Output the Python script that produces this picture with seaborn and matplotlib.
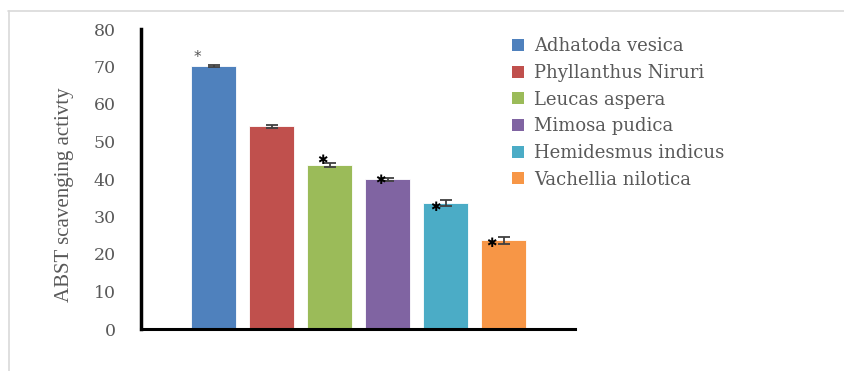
import matplotlib
matplotlib.use("Agg")
import matplotlib.pyplot as plt
import seaborn as sns
import pandas as pd
from matplotlib.patches import Patch
from matplotlib.lines import Line2D

species = ["Adhatoda vesica", "Phyllanthus Niruri", "Leucas aspera",
           "Mimosa pudica", "Hemidesmus indicus", "Vachellia nilotica"]
values = [70.1, 54.1, 43.7, 40.0, 33.6, 23.7]
errors = [0.3, 0.4, 0.6, 0.4, 0.7, 0.9]
colors = ["#4F81BD", "#C0504D", "#9BBB59", "#8064A2", "#4BACC6", "#F79646"]
star_dx = [-0.28, None, -0.13, -0.12, -0.18, -0.21]
star_y = [73.0, None, 45.0, 39.7, 32.5, 22.7]

sns.set_theme(style="white")
plt.rcParams['font.family'] = ['DejaVu Serif']

df = pd.DataFrame({"species": species, "value": values})

fig = plt.figure(figsize=(8.44, 3.71), dpi=100)
ax = fig.add_axes([141/844, 42/371, (575-141)/844, (329-29)/371])

sns.barplot(data=df, x="species", y="value", hue="species", palette=colors,
            order=species, hue_order=species, dodge=False, width=0.78,
            legend=False, ax=ax, saturation=1, edgecolor="white", linewidth=0.6)
ax.errorbar(range(len(species)), values, yerr=errors, fmt="none",
            ecolor="#404040", elinewidth=1.3, capsize=4.5, capthick=1.3)

for i, (dx, sy) in enumerate(zip(star_dx, star_y)):
    if dx is None:
        continue
    if i == 0:
        ax.text(i + dx, sy - 0.5, "*", ha="center", va="center", fontsize=11,
                color="#555555", family="DejaVu Sans")
    else:
        ax.text(i + dx, sy, "\u2731", ha="center", va="center", fontsize=9,
                color="black", family="DejaVu Sans")

ax.set_ylim(0, 80)
ax.set_xlim(-1.25, 6.23)
ax.set_yticks(range(0, 81, 10))
ax.set_xticks([])
ax.set_xlabel("")
ax.set_ylabel("ABST scavenging activty", family="Liberation Serif",
              fontsize=15, color="#595959")
ax.yaxis.set_label_coords(-0.154, 0.447)
ax.tick_params(axis="y", length=0, pad=18, labelsize=12.5, labelcolor="#595959")
for lab in ax.get_yticklabels():
    lab.set_family("DejaVu Serif")
sns.despine(ax=ax)
ax.spines["left"].set_color("black")
ax.spines["left"].set_linewidth(2.5)
ax.spines["bottom"].set_color("black")
ax.spines["bottom"].set_linewidth(2.2)

handles = [Patch(facecolor=c, edgecolor="none") for c in colors]
fig.legend(handles, species, loc="upper left", bbox_to_anchor=(505/844, 1 - 30/371),
           frameon=False, handlelength=0.65, handleheight=0.65, handletextpad=0.55,
           labelspacing=0.48, borderaxespad=0, borderpad=0.4,
           prop={"family": "DejaVu Serif", "size": 13},
           labelcolor="#595959")

fig.add_artist(Line2D([8/844, 1], [1 - 10.5/371, 1 - 10.5/371], color="#D9D9D9", lw=1.2,
                      transform=fig.transFigure))
fig.add_artist(Line2D([8.5/844, 8.5/844], [0, 1 - 10.5/371], color="#D9D9D9", lw=1.2,
                      transform=fig.transFigure))

fig.savefig("out.png", dpi=100)
